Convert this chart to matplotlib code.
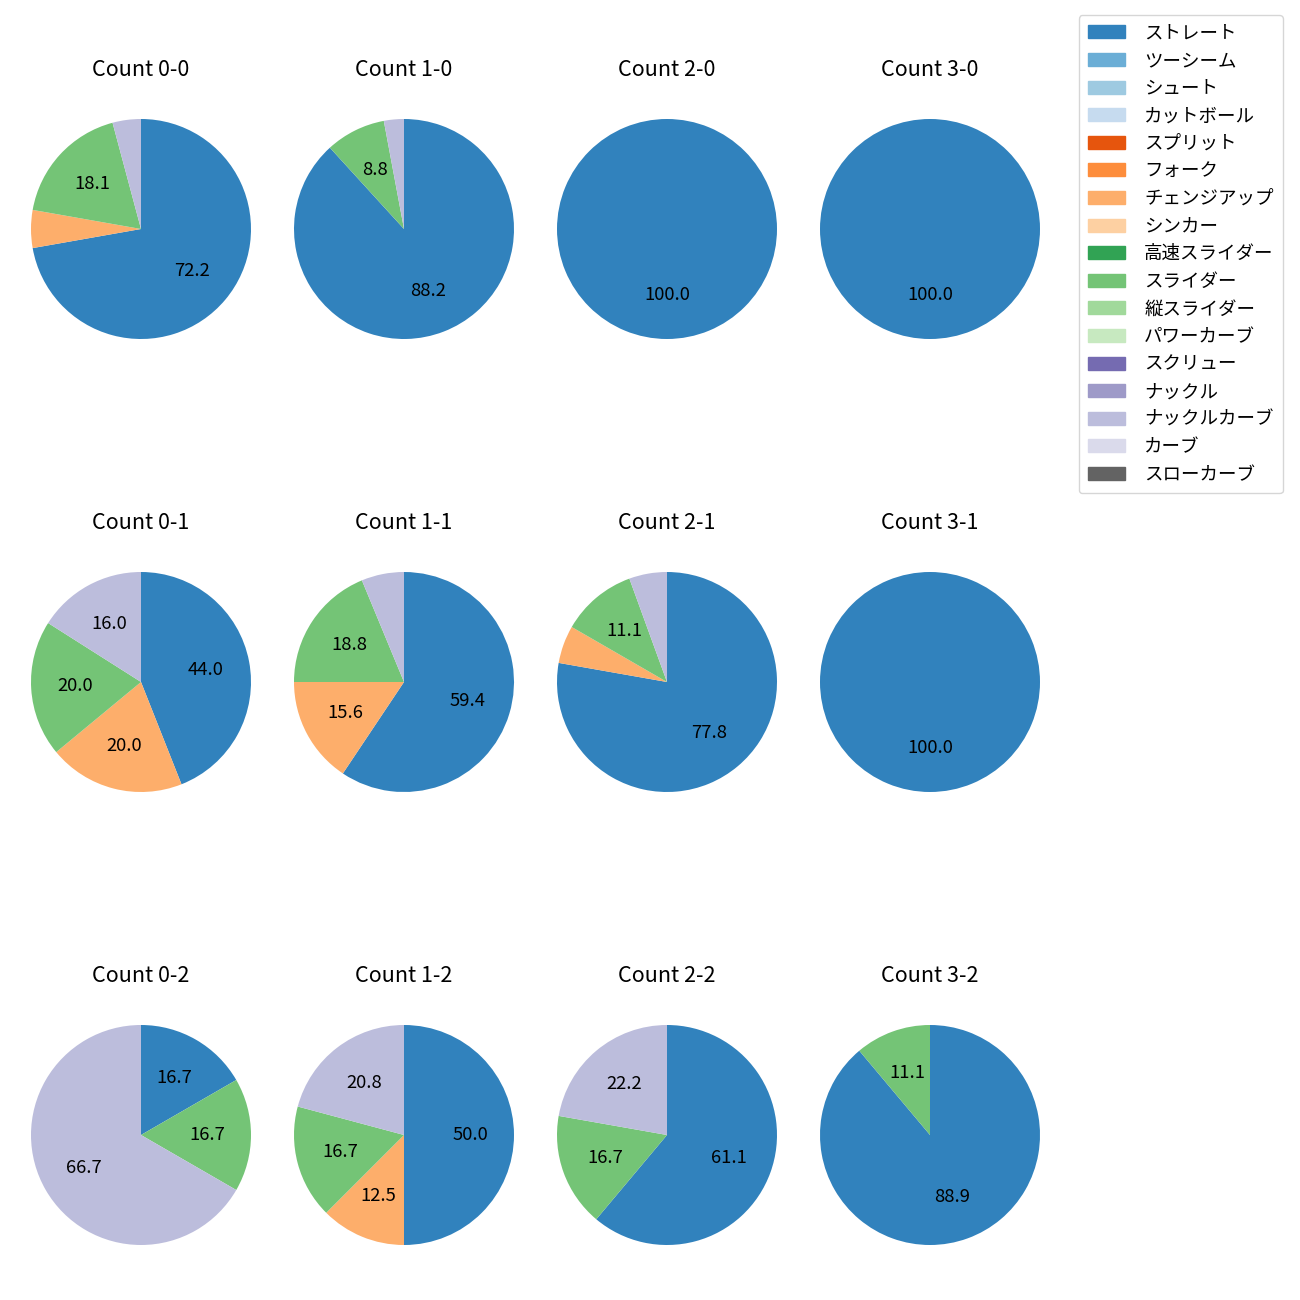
import matplotlib
matplotlib.use("Agg")
import matplotlib.pyplot as plt
from matplotlib.patches import Patch
import numpy as np

plt.rcParams['font.family'] = ['Noto Sans CJK JP', 'DejaVu Sans']

pitch_types = ["ストレート", "ツーシーム", "シュート", "カットボール", "スプリット",
               "フォーク", "チェンジアップ", "シンカー", "高速スライダー", "スライダー",
               "縦スライダー", "パワーカーブ", "スクリュー", "ナックル", "ナックルカーブ",
               "カーブ", "スローカーブ"]

# pitch counts per ball-strike count: ストレート, チェンジアップ, スライダー, ナックルカーブ
counts = {
    "0-0": [52, 4, 13, 3],
    "1-0": [30, 0, 3, 1],
    "2-0": [5, 0, 0, 0],
    "3-0": [2, 0, 0, 0],
    "0-1": [11, 5, 5, 4],
    "1-1": [19, 5, 6, 2],
    "2-1": [14, 1, 2, 1],
    "3-1": [3, 0, 0, 0],
    "0-2": [1, 0, 1, 4],
    "1-2": [12, 3, 4, 5],
    "2-2": [11, 0, 3, 4],
    "3-2": [8, 0, 1, 0],
}
used = ["ストレート", "チェンジアップ", "スライダー", "ナックルカーブ"]

cmap = plt.get_cmap("tab20c")
colors = {p: cmap(i) for i, p in enumerate(pitch_types)}

fig = plt.figure(figsize=(13, 13), dpi=100)

col_cx = [141, 404, 667, 930]
row_cy = [229, 682, 1135]
size = 275

for r in range(3):
    for c in range(4):
        key = f"{c}-{r}"
        vals = np.array(counts[key], dtype=float)
        x0 = (col_cx[c] - size / 2) / 1300
        y0 = 1 - (row_cy[r] + size / 2) / 1300
        ax = fig.add_axes([x0, y0, size / 1300, size / 1300])
        mask = vals > 0
        ax.pie(vals[mask], colors=[colors[p] for p, m in zip(used, mask) if m],
               startangle=90, counterclock=False,
               autopct=lambda pct: f"{pct:.1f}" if pct > 7 else "",
               textprops={"fontsize": 13.3})
        ax.set_title(f"Count {key}", fontsize=15.5, pad=11)

handles = [Patch(color=colors[p], label=p) for p in pitch_types]
fig.legend(handles=handles, loc="upper right", bbox_to_anchor=(0.994, 0.9955),
           fontsize=13.3, labelspacing=0.52, handletextpad=1.05, borderpad=0.5)

fig.savefig("out.png", dpi=100)
